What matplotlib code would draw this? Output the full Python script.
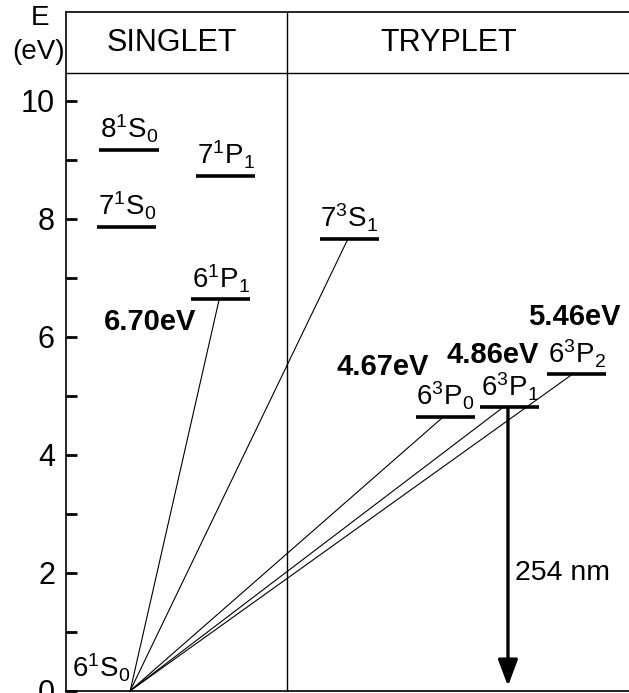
import matplotlib
matplotlib.use("Agg")
import matplotlib.pyplot as plt

plt.rcParams['font.family'] = ['Liberation Sans', 'DejaVu Sans']
plt.rcParams['mathtext.fontset'] = 'custom'
plt.rcParams['mathtext.rm'] = 'Liberation Sans'
plt.rcParams['mathtext.it'] = 'Liberation Sans'
plt.rcParams['mathtext.bf'] = 'Liberation Sans:bold'

# Energy levels of mercury (eV)
level_names = ['8^1S_0', '7^1S_0', '7^1P_1', '6^1P_1', '7^3S_1', '6^3P_0', '6^3P_1', '6^3P_2']
level_energy = [9.17, 7.86, 8.73, 6.63, 7.66, 4.64, 4.80, 5.36]
level_col = [1.12, 1.08, 2.84, 2.75, 5.03, 6.74, 7.88, 9.07]   # horizontal centre of each level

# Transitions from the ground state 6^1S_0
trans_to = ['6^1P_1', '7^3S_1', '6^3P_0', '6^3P_1', '6^3P_2']
trans_end_x = [2.72, 5.01, 6.70, 7.76, 8.99]

# Energy annotations
ev_labels = ['6.70eV', '4.67eV', '4.86eV', '5.46eV']
ev_pos = [(1.49, 6.25), (5.63, 5.49), (7.57, 5.69), (9.02, 6.34)]

ground_x = 1.14
header_y = 10.46
divider_x = 3.93
level_w = 1.05

fig = plt.figure(figsize=(6.29, 6.93), dpi=100)
ax = fig.add_axes([66 / 629, 1 / 693, (629 - 66) / 629, 680 / 693])
ax.set_xlim(0, 10)
ax.set_ylim(-0.02, 11.5)

for s in ['right', 'bottom']:
    ax.spines[s].set_visible(False)
ax.spines['left'].set_linewidth(1.2)
ax.spines['top'].set_linewidth(1.2)
ax.axhline(0, color='black', lw=1.2, clip_on=False)

ax.set_xticks([])
ax.set_yticks([0, 2, 4, 6, 8, 10])
ax.set_yticks([1, 3, 5, 7, 9], minor=True)
ax.tick_params(axis='y', which='both', direction='in', length=8, width=2, labelsize=22, pad=8)

# header
ax.axhline(header_y, color='black', lw=1.0)
ax.axvline(divider_x, color='black', lw=1.0)
ax.text(1.88, (header_y + 11.5) / 2, 'SINGLET', ha='center', va='center', fontsize=22)
ax.text(6.80, (header_y + 11.5) / 2, 'TRYPLET', ha='center', va='center', fontsize=22)
fig.text(40 / 629, 1 - 18 / 693, 'E', ha='center', va='center', fontsize=20)
fig.text(39 / 629, 1 - 52 / 693, '(eV)', ha='center', va='center', fontsize=20)

# levels
for name, e, c in zip(level_names, level_energy, level_col):
    ax.plot([c - level_w / 2, c + level_w / 2], [e, e], color='black', lw=2.6, solid_capstyle='butt')
    ax.text(c, e + 0.08, r'$\mathregular{' + name + '}$', ha='center', va='bottom', fontsize=20)

ax.text(0.62, 0.12, r'$\mathregular{6^1S_0}$', ha='center', va='bottom', fontsize=20)

# transitions
for name, xe in zip(trans_to, trans_end_x):
    e = level_energy[level_names.index(name)]
    ax.plot([ground_x, xe], [0, e], color='black', lw=0.8)

for lab, (x, y) in zip(ev_labels, ev_pos):
    ax.text(x, y, lab, ha='center', va='center', fontsize=21, fontweight='bold')

# 254 nm emission
e_p1 = level_energy[level_names.index('6^3P_1')]
ax.annotate('', xy=(7.85, 0.08), xytext=(7.85, e_p1),
            arrowprops=dict(arrowstyle='-|>,head_width=0.3,head_length=0.8', color='black',
                            lw=2.4, mutation_scale=20, shrinkA=0, shrinkB=0))
ax.text(7.98, 2.0, '254 nm', ha='left', va='center', fontsize=20.5)

fig.savefig('out.png', dpi=100)
